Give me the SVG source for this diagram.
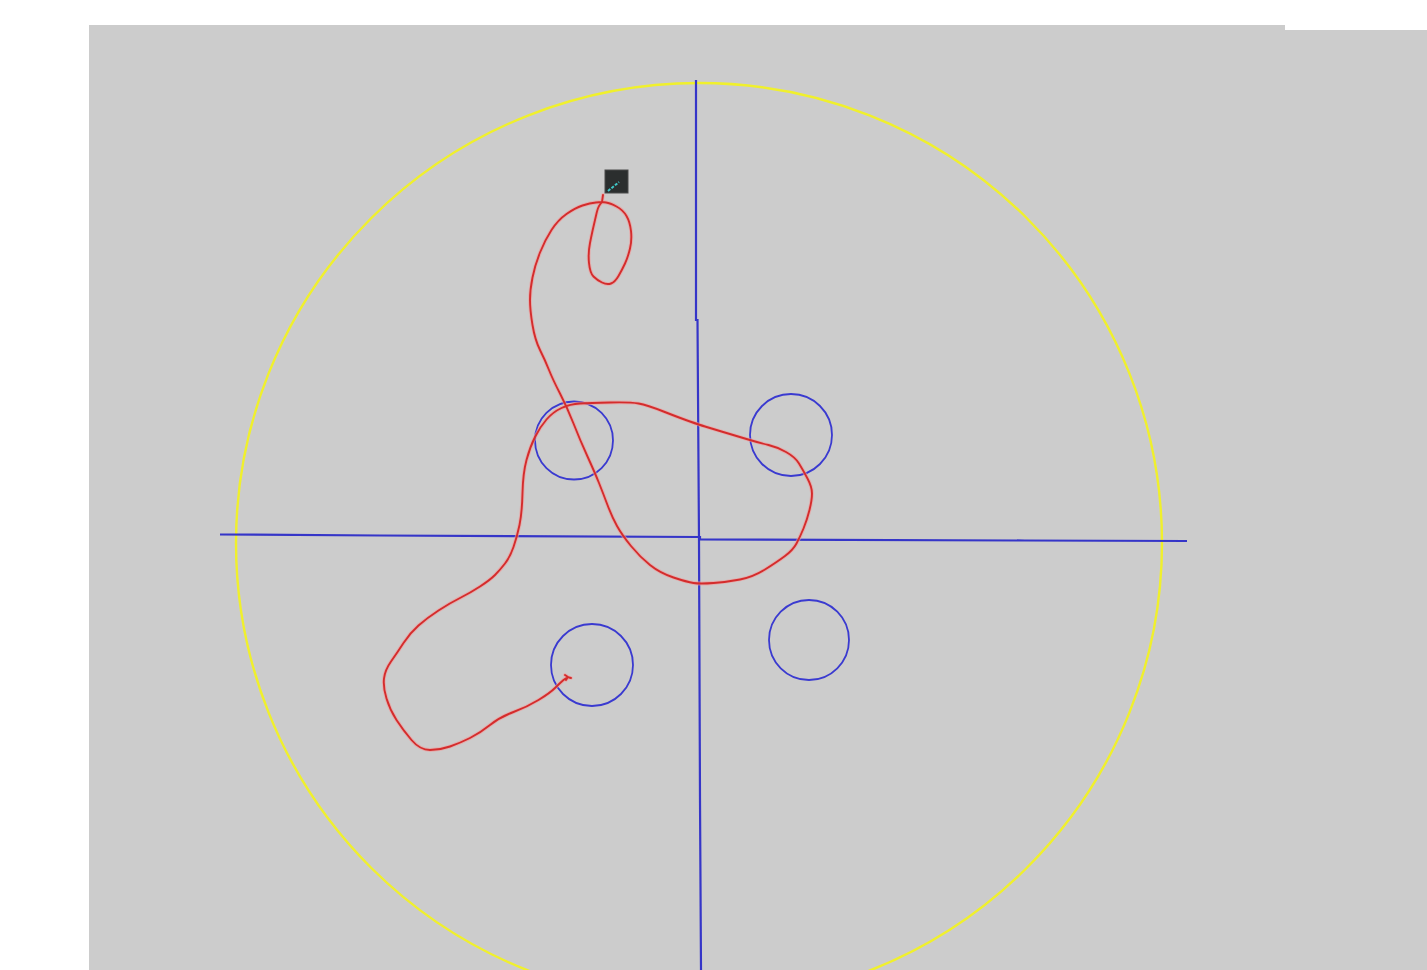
<svg xmlns="http://www.w3.org/2000/svg" xmlns:xlink="http://www.w3.org/1999/xlink" width="1427" height="970" viewBox="0 0 1427 970">
  <style>
    .axis { fill: none; stroke: #3535c8; stroke-width: 2.2; }
    .ring { fill: none; stroke: #3a3ad0; stroke-width: 1.8; }
    .rim { fill: none; stroke: #f0f02c; stroke-width: 2.4; }
    .curve { fill: none; stroke: #d42c2c; stroke-width: 1.9; stroke-linejoin: round; stroke-linecap: round; }
    .halo { fill: none; stroke: #f29a9a; stroke-width: 3.8; stroke-linejoin: round; stroke-linecap: round; opacity: 0.6; }
  </style>
  <defs>
    <path id="trail" d="M603,195 L602,202 M602,202 L606,202.5 Q610,203 616.5,206.5 Q623,210 626.5,216 Q630,222 631,231 Q632,240 630,248.5 Q628,257 625,263.5 Q622,270 618.5,276 Q615,282 611,283.5 Q607,285 602,282.5 Q597,280 593.5,276.5 Q590,273 589,263 Q588,253 590,243 Q592,233 593.5,226.5 Q595,220 596.5,213.5 Q598,207 600,204.5 L602,202 M602,202 L596,202.5 Q590,203 582.5,205.5 Q575,208 566.5,214 Q558,220 551.5,230 Q545,240 540,252.5 Q535,265 532.5,277.5 Q530,290 530,300 Q530,310 532.5,325 Q535,340 540,350 Q545,360 549,370 Q553,380 560,393.5 Q567,407 573.5,423.5 Q580,440 587.5,456.5 Q595,473 599,483 Q603,493 607.5,505 Q612,517 617,526 Q622,535 631,546 Q640,557 650,565 Q660,573 673.5,577.5 Q687,582 693.5,583 Q700,584 713.5,583 Q727,582 740,579.5 Q753,577 765,569.5 Q777,562 785,556 Q793,550 796.5,543.5 Q800,537 803.5,528.5 Q807,520 809.5,510 Q812,500 812,493.5 Q812,487 807.5,478.5 Q803,470 799,463.5 Q795,457 786,452 Q777,447 768.5,445 Q760,443 746.5,439 Q733,435 721.5,431.5 Q710,428 705,426.5 Q700,425 690,421.5 Q680,418 663.5,411.5 Q647,405 638.5,403.5 Q630,402 610,402.5 Q590,403 580,403.5 Q570,404 561.5,408 Q553,412 546.5,419.5 Q540,427 535,437 Q530,447 526.5,460 Q523,473 522.5,493 Q522,513 519.5,525 Q517,537 513.5,547 Q510,557 505,563.5 Q500,570 495,575 Q490,580 480,586.5 Q470,593 460,598 Q450,603 438.5,610.5 Q427,618 418.5,625.5 Q410,633 403.5,643 Q397,653 391,661.5 Q385,670 384,678.5 Q383,687 386.5,698.5 Q390,710 396.5,720 Q403,730 411.5,740 Q420,750 430,750 Q440,750 450,746.5 Q460,743 470,738 Q480,733 490,725 Q500,717 513.5,712 Q527,707 538.5,700 Q550,693 555,688 Q560,683 563.5,680 Q567,677 569,677.5 L571,678 M565,675 L568,677 L566,680"/>
  </defs>
  <rect x="0" y="0" width="1427" height="970" fill="#ffffff"/>
  <g id="background">
    <rect x="89" y="25" width="1196" height="945" fill="#cccccc"/>
    <rect x="1285" y="30" width="142" height="940" fill="#cccccc"/>
  </g>
  <g id="rim">
    <ellipse class="rim" cx="699" cy="543" rx="463" ry="460"/>
  </g>
  <g id="axes">
    <polyline class="axis" points="696,80 696,320 697.5,320 699,540 700,800 701,970"/>
    <polyline class="axis" points="220,534.5 380,535.5 700,537 700,539.5 1025,540.5 1187,541"/>
  </g>
  <g id="rings">
    <circle class="ring" cx="574" cy="440.5" r="39"/>
    <circle class="ring" cx="791" cy="435" r="41"/>
    <circle class="ring" cx="592" cy="665" r="41"/>
    <circle class="ring" cx="809" cy="640" r="40"/>
  </g>
  <g id="path">
    <use xlink:href="#trail" class="halo"/>
    <use xlink:href="#trail" class="curve"/>
  </g>
  <g id="cursor">
    <rect x="605" y="170" width="23" height="23" fill="#2b2e2e" stroke="#4a4a4a" stroke-width="1"/>
    <line x1="608" y1="191" x2="619" y2="182" stroke="#3fc8c8" stroke-width="2" stroke-dasharray="3,1.5"/>
  </g>
</svg>
